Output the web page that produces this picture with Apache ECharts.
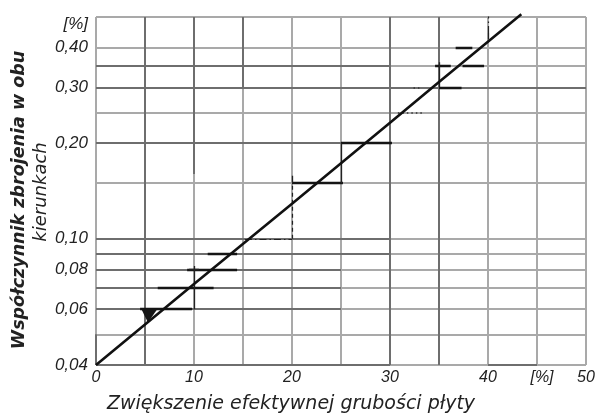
<!DOCTYPE html>
<html><head><meta charset="utf-8">
<script src="https://cdn.jsdelivr.net/npm/echarts@6/dist/echarts.min.js"></script>
<style>html,body{margin:0;padding:0;background:#fff}#c{width:598px;height:414px}</style>
</head><body><div id="c"></div>
<script>
// ---- data ----
const xTickValues = [0, 10, 20, 30, 40, 45, 50];
const xTickLabels = ['0', '10', '20', '30', '40', '[%]', '50'];
const yTickValues = [0.04, 0.06, 0.08, 0.10, 0.20, 0.30, 0.40, 0.50];
const yTickLabels = ['0,04', '0,06', '0,08', '0,10', '0,20', '0,30', '0,40', '[%]'];
const hGridValues = [0.04, 0.05, 0.06, 0.07, 0.08, 0.09, 0.10, 0.15, 0.20, 0.25, 0.30, 0.35, 0.40, 0.50];
const vGridValues = [0, 5, 10, 15, 20, 25, 30, 35, 40, 45, 50];
// heavier-drawn grid pieces: [value, from, to]
const darkHSegments = [[0.04, 0, 30], [0.04, 40, 45], [0.06, 0, 25], [0.07, 0, 25], [0.08, 0, 25], [0.09, 0, 30], [0.10, 0, 30], [0.20, 0, 25], [0.30, 0, 50], [0.35, 0, 30]];
const darkVSegments = [[0, 0.04, 0.05], [5, 0.04, 0.5], [10, 0.16, 0.5], [15, 0.3, 0.5], [30, 0.04, 0.5], [35, 0.04, 0.5]];
// main diagonal
const diagX = [0, 10, 20, 30, 35, 43.4];
const diagY = [0.04, 0.072, 0.129, 0.232, 0.312, 0.51];
// step construction marks [x1, y1, x2, y2]
const stepHeavy = [[4.5, 0.06, 9.8, 0.06], [6.3, 0.07, 12, 0.07], [9.3, 0.08, 14.4, 0.08], [11.4, 0.09, 14.4, 0.09],
  [20, 0.15, 25.2, 0.15], [25, 0.20, 30.2, 0.20], [35, 0.30, 37.3, 0.30], [34.6, 0.35, 36.2, 0.35], [37.4, 0.35, 39.6, 0.35], [36.7, 0.40, 38.4, 0.40]];
const stepThin = [[10, 0.06, 10, 0.082], [9.5, 0.08, 10.5, 0.08], [25, 0.15, 25, 0.20], [35, 0.30, 35, 0.36], [20, 0.15, 20, 0.158], [40, 0.425, 40, 0.445]];
const stepDashed = [[20, 0.10, 20, 0.15]];
const stepDashDot = [[15.2, 0.10, 20, 0.10], [40, 0.445, 40, 0.505]];
const stepDotted = [[30.8, 0.25, 33.5, 0.25], [32.4, 0.30, 33.0, 0.30]];
const blobs = [[[4.6, 0.0603], [6.3, 0.0603], [5.3, 0.0545]]];

// ---- build ----
const lightGrid = [];
hGridValues.forEach(v => lightGrid.push({coords: [[0, v], [50, v]]}));
vGridValues.forEach(v => lightGrid.push({coords: [[v, 0.04], [v, 0.5]]}));
const darkGrid = [];
darkHSegments.forEach(s => darkGrid.push({coords: [[s[1], s[0]], [s[2], s[0]]]}));
darkVSegments.forEach(s => darkGrid.push({coords: [[s[0], s[1]], [s[0], s[2]]]}));
const seg = a => a.map(s => ({coords: [[s[0], s[1]], [s[2], s[3]]]}));

function linesSeries(name, data, style, z) {
  return {name, type: 'lines', coordinateSystem: 'cartesian2d', polyline: false, silent: true,
    data, lineStyle: Object.assign({opacity: 1, curveness: 0}, style), z, effect: {show: false}};
}

const chart = echarts.init(document.getElementById('c'), null, {renderer: 'canvas'});
const tickFont = {fontFamily: 'Liberation Sans', fontStyle: 'italic', color: '#222'};
chart.setOption({
  animation: false,
  backgroundColor: '#fff',
  grid: {left: 96, right: 12, top: 17, bottom: 49},
  xAxis: {
    type: 'value', min: 0, max: 50, interval: 5,
    axisLine: {show: false}, axisTick: {show: false}, splitLine: {show: false},
    axisLabel: Object.assign({}, tickFont, {
      fontSize: 16, margin: 5,
      formatter: v => {
        const i = xTickValues.indexOf(v);
        if (i < 0) return '';
        return xTickLabels[i] === '[%]' ? '{u|[%]}' : xTickLabels[i];
      },
      rich: {u: {fontFamily: 'Liberation Sans', fontStyle: 'italic', fontSize: 16, color: '#222', padding: [0, 0, 0, 10]}}
    })
  },
  yAxis: {
    type: 'log', logBase: 10, min: 0.04, max: 0.5,
    axisLine: {show: false}, axisTick: {show: false}, splitLine: {show: false}, minorSplitLine: {show: false},
    axisLabel: Object.assign({}, tickFont, {
      fontSize: 17, margin: 8, customValues: yTickValues,
      formatter: v => {
        let best = 0, d = Infinity;
        yTickValues.forEach((t, i) => { const e = Math.abs(Math.log(t) - Math.log(v)); if (e < d) { d = e; best = i; } });
        return yTickLabels[best] === '[%]' ? '{u|[%]}' : yTickLabels[best];
      },
      rich: {u: {fontFamily: 'Liberation Sans', fontStyle: 'italic', fontSize: 17, color: '#222', padding: [14, 0, 0, 0]}}
    })
  },
  graphic: [
    {type: 'text', x: 291, y: 404, silent: true,
      style: {text: 'Zwiększenie efektywnej grubości płyty', fontFamily: 'DejaVu Sans', fontStyle: 'italic', fontSize: 19, fill: '#222', align: 'center', verticalAlign: 'middle'}},
    {type: 'text', x: 19, y: 200, rotation: Math.PI / 2, silent: true,
      style: {text: 'Współczynnik zbrojenia w obu', fontFamily: 'DejaVu Sans', fontStyle: 'italic', fontWeight: 'bold', fontSize: 17.5, fill: '#222', align: 'center', verticalAlign: 'middle'}},
    {type: 'text', x: 41, y: 192, rotation: Math.PI / 2, silent: true,
      style: {text: 'kierunkach', fontFamily: 'DejaVu Sans', fontStyle: 'italic', fontSize: 18, fill: '#222', align: 'center', verticalAlign: 'middle'}}
  ],
  series: [
    linesSeries('grid', lightGrid, {color: '#a9a9a9', width: 2}, 1),
    linesSeries('gridDark', darkGrid, {color: '#6e6e6e', width: 2}, 2),
    linesSeries('stepHeavy', seg(stepHeavy), {color: '#151515', width: 2.3}, 5),
    linesSeries('stepThin', seg(stepThin), {color: '#222', width: 1.3}, 5),
    linesSeries('stepDashed', seg(stepDashed), {color: '#222', width: 1.2, type: [4, 3]}, 5),
    linesSeries('stepDashDot', seg(stepDashDot), {color: '#222', width: 1.2, type: [7, 3, 1.5, 3]}, 5),
    linesSeries('stepDotted', seg(stepDotted), {color: '#333', width: 1.5, type: [1.5, 3]}, 5),
    {
      name: 'blob', type: 'custom', coordinateSystem: 'cartesian2d', silent: true, z: 6,
      data: blobs.map((b, i) => [b[0][0], b[0][1], i]),
      renderItem: (params, api) => {
        const b = blobs[api.value(2)];
        return {type: 'polygon', shape: {points: b.map(p => api.coord(p))}, style: {fill: '#151515'}};
      }
    },
    {
      name: 'diagonal', type: 'line', symbol: 'none', clip: false, silent: true, z: 7,
      data: diagX.map((x, i) => [x, diagY[i]]),
      lineStyle: {color: '#111', width: 2.6}
    }
  ]
});
</script></body></html>
